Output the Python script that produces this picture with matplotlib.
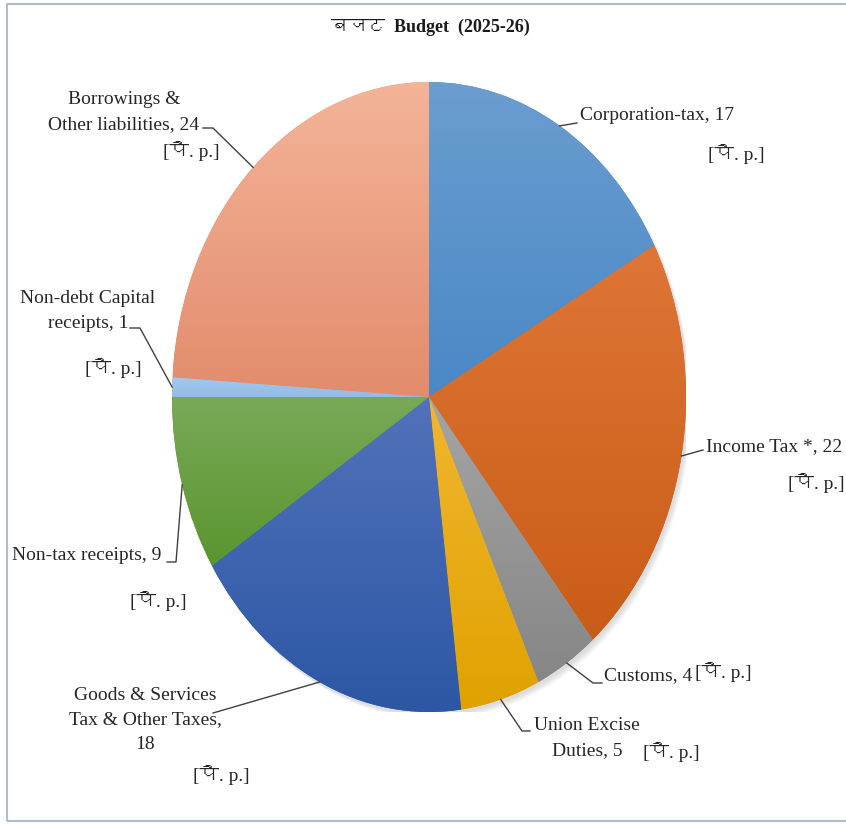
import numpy as np
import matplotlib
matplotlib.use("Agg")
from matplotlib import pyplot as plt
from matplotlib import font_manager
from matplotlib.ft2font import FT2Font
from matplotlib.colors import LinearSegmentedColormap
from matplotlib.patches import Ellipse, Rectangle

# Data
labels = ["Corporation-tax, 17", "Income Tax *, 22", "Customs, 4",
          "Union Excise\nDuties, 5", "Goods & Services\nTax & Other Taxes,\n18",
          "Non-tax receipts, 9", "Non-debt Capital\nreceipts, 1",
          "Borrowings &\nOther liabilities, 24"]
values = [17, 22, 4, 5, 18, 9, 1, 24]
tag = "[पै. p.]"
title = "बजट  Budget  (2025-26)"

# gradient colours per slice (top, bottom)
top_colors = ["#6b9dd0", "#df7636", "#a5a5a5", "#f1b630", "#5272ba", "#79a958", "#a4c9ef", "#f4b498"]
bottom_colors = ["#4a88c6", "#c95c17", "#868686", "#e0a200", "#2c57a5", "#5a952e", "#92bbe6", "#e28c6c"]


def find_devanagari():
    for f in font_manager.fontManager.ttflist:
        try:
            if FT2Font(f.fname).get_char_index(ord("ब")):
                return f.name
        except Exception:
            pass
    return None


deva = find_devanagari()
families = ["Liberation Serif"] + ([deva] if deva else []) + ["DejaVu Sans"]
plt.rcParams["font.family"] = families

W, H = 846, 825
fig = plt.figure(figsize=(W / 100, H / 100), dpi=100)

# pie ellipse in pixels (centre, radii)
cx, cy, rx, ry = 429, 397, 257, 315
ax = fig.add_axes([(cx - rx) / W, (H - cy - ry) / H, 2 * rx / W, 2 * ry / H])


def px(x, y):
    return (x - cx) / rx, (cy - y) / ry


# soft shadow
for i in range(4):
    ax.add_patch(Ellipse((0.008 + 0.004 * i, -0.01 - 0.004 * i), 2.0, 2.0,
                         color="#555555", alpha=0.05, lw=0, zorder=0))

wedges, _ = ax.pie(values, startangle=90, counterclock=False,
                   colors=bottom_colors, wedgeprops=dict(linewidth=0))

grad = np.linspace(0, 1, 256).reshape(-1, 1)
for w, top, bot in zip(wedges, top_colors, bottom_colors):
    w.set_zorder(1)
    bb = w.get_path().get_extents()
    cmap = LinearSegmentedColormap.from_list("g", [bot, top])
    im = ax.imshow(grad, cmap=cmap, origin="lower", aspect="auto",
                   extent=[bb.x0, bb.x1, bb.y0, bb.y1], zorder=2)
    im.set_clip_path(w)

ax.set_xlim(-1, 1)
ax.set_ylim(-1, 1)
ax.set_aspect("auto")
ax.axis("off")

# label layout in pixels: text pos, ha, tag pos, leader elbows
layout = [
    ((580, 116), "left", (708, 154), [(577, 123)]),
    ((706, 447), "left", (788, 483), [(703, 450)]),
    ((604, 676), "left", (695, 672), [(593, 683), (602, 683)]),
    ((587, 738), "center", (643, 752), [(522, 731), (530, 731)]),
    ((145, 720), "center", (193, 775), [(213, 713)]),
    ((12, 556), "left", (130, 601), [(176, 562), (167, 562)]),
    ((88, 311), "center", (85, 368), [(140, 328), (130, 328)]),
    ((124, 112), "center", (163, 151), [(213, 128), (203, 128)]),
]

for w, lab, (tpos, ha, gpos, elbows) in zip(wedges, labels, layout):
    mid = np.deg2rad((w.theta1 + w.theta2) / 2)
    pts = [(np.cos(mid), np.sin(mid))] + [px(*p) for p in elbows]
    xs, ys = zip(*pts)
    ax.plot(xs, ys, color="#404040", lw=1, clip_on=False, zorder=3)
    ax.text(*px(*tpos), lab, ha=ha, va="center", multialignment="center",
            fontsize=14, color="#262626", linespacing=1.6, clip_on=False)
    ax.text(*px(*gpos), tag, ha="left", va="center", fontsize=14,
            color="#262626", clip_on=False)

fig.text(430 / W, 1 - 27 / H, title, ha="center", va="center",
         fontsize=13, fontweight="bold", color="#1a1a1a")

# chart frame
fig.patches.append(Rectangle((7 / W, 4 / H), 1.2, 1 - 8 / H, transform=fig.transFigure,
                             fill=False, edgecolor="#aebccb", lw=1.5))

fig.savefig("out.png", dpi=100)
